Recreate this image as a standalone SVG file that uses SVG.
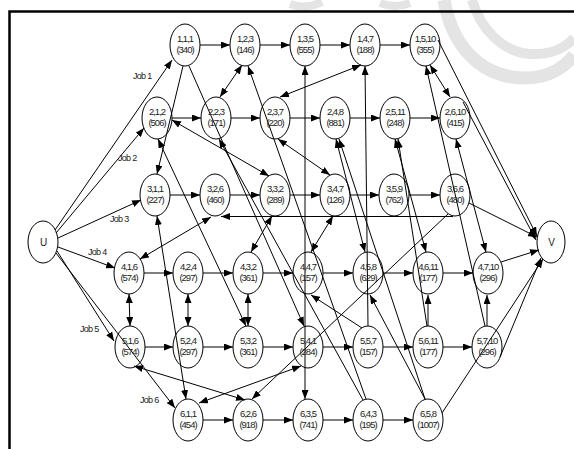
<svg xmlns="http://www.w3.org/2000/svg" width="574" height="449" viewBox="0 0 574 449">
<defs>
<marker id="a" markerUnits="userSpaceOnUse" markerWidth="9" markerHeight="7" refX="9" refY="3.5" orient="auto-start-reverse"><path d="M0,0 L9,3.5 L0,7 z" fill="#000"/></marker>
<style>
.n ellipse{fill:none;stroke:#000;stroke-width:1}
.n text{font-family:"Liberation Sans",Arial,sans-serif;font-size:9.5px;letter-spacing:-1px;text-anchor:middle;fill:#222}
.lbl{font-family:"Liberation Sans",Arial,sans-serif;font-size:9px;letter-spacing:-0.7px;fill:#222}
#edges path{fill:none;stroke:#000;stroke-width:1}
.e{marker-end:url(#a)}
.d{marker-end:url(#a);marker-start:url(#a)}
.s{marker-start:url(#a)}
.wm{fill:none;stroke:#e4e4e4}
</style>
</defs>
<rect width="574" height="449" fill="#fff"/>
<g id="watermark">
<path class="wm" d="M444,0 C452,45 480,78 525,78 C550,78 566,66 574,55" stroke-width="13"/>
<path class="wm" d="M472,0 C480,28 502,52 530,54 C550,55 565,48 574,38" stroke-width="10"/>
<path class="wm" d="M290,4 Q305,10 322,2" stroke-width="8"/>
<path class="wm" d="M380,3 Q395,9 410,3" stroke-width="8"/>
</g>
<path d="M9.5,449 V11.5 H574" fill="none" stroke="#000" stroke-width="2.5"/>
<g id="edges">
<path class="e" d="M55,230 L172,60"/>
<path class="e" d="M56,233 L144,128"/>
<path class="e" d="M58,238 L141,200"/>
<path class="e" d="M58,247 L115,268"/>
<path class="e" d="M57,251 L114,341"/>
<path class="e" d="M56,253 L175,408"/>
<path class="e" d="M200,45 H230"/><path class="e" d="M260,45 H290"/><path class="e" d="M320,45 H350"/><path class="e" d="M380,45 H410"/>
<path class="e" d="M438,40 L537,236"/><path class="e" d="M463,102 L536,240"/>
<path class="e" d="M172,118 H201"/><path class="e" d="M231,118 H260"/><path class="e" d="M290,118 H320"/><path class="e" d="M350,118 H380"/><path class="e" d="M410,118 H440"/>
<path class="e" d="M170,195 H200"/><path class="e" d="M230,195 H260"/><path class="e" d="M290,195 H320"/><path class="e" d="M350,195 H379"/><path class="e" d="M409,195 H440"/><path class="e" d="M469,203 L537,237"/>
<path class="e" d="M144,273 H173"/><path class="e" d="M203,273 H233"/><path class="e" d="M263,273 H293"/><path class="e" d="M323,273 H353"/><path class="e" d="M383,273 H413"/><path class="e" d="M443,273 H473"/><path class="e" d="M501,262 L539,250"/>
<path class="e" d="M145,347 H173"/><path class="e" d="M203,347 H233"/><path class="e" d="M263,347 H293"/><path class="e" d="M323,347 H353"/><path class="e" d="M383,347 H413"/><path class="e" d="M443,347 H472"/><path class="e" d="M500,357 L541,258"/>
<path class="e" d="M203,420 H233"/><path class="e" d="M263,420 H293"/><path class="e" d="M323,420 H353"/><path class="e" d="M383,420 H413"/><path class="e" d="M442,413 L543,259"/>
<path class="e" d="M183,66 L157,174"/>
<path class="e" d="M189,66 L304,326"/>
<path class="d" d="M157,216 L186,399"/>
<path class="d" d="M199,403 L301,366"/>
<path class="d" d="M172,120 L269,176"/>
<path class="d" d="M158,139 L246,326"/>
<path class="d" d="M272,216 L251,252"/>
<path class="d" d="M248,294 V326"/>
<path class="d" d="M242,65 L220,97"/>
<path class="s" d="M248,66 L366,399"/>
<path class="s" d="M219,139 L363,400"/>
<path class="d" d="M188,294 V326"/>
<path class="d" d="M305,66 V399"/>
<path class="d" d="M140,259 L211,217"/>
<path class="e" d="M453,216.5 H221"/>
<path class="e" d="M448,214 L252,399"/>
<path class="d" d="M129,294 L130,326"/>
<path class="d" d="M134,366 L245,400"/>
<path class="d" d="M361,65 L280,97"/>
<path class="e" d="M368,326 L365,66"/>
<path class="d" d="M278,139 L330,175"/>
<path class="d" d="M333,216 L311,252"/>
<path class="e" d="M362,328 L311,295"/>
<path class="d" d="M336,139 L365,252"/>
<path class="s" d="M339,139 L425,399"/>
<path class="e" d="M425,399 L370,295"/>
<path class="d" d="M395,139 L426,252"/>
<path class="s" d="M398,139 L427,326"/>
<path class="e" d="M428,326 V295"/>
<path class="d" d="M430,65 L450,97"/>
<path class="e" d="M485,326 L426,66"/>
<path class="d" d="M456,139 L486,252"/>
<path class="e" d="M487,326 V295"/>
</g>
<g id="U" class="n"><ellipse cx="43" cy="242" rx="15" ry="21"/><text x="43" y="246" style="font-size:10px">U</text></g>
<g id="V" class="n"><ellipse cx="551" cy="242" rx="14" ry="21"/><text x="551" y="246" style="font-size:10px">V</text></g>
<g id="n111" class="n"><ellipse cx="185" cy="45" rx="15" ry="21"/><text x="185" y="42">1,1,1</text><text x="185" y="53">(340)</text></g>
<g id="n123" class="n"><ellipse cx="245" cy="45" rx="15" ry="21"/><text x="245" y="42">1,2,3</text><text x="245" y="53">(146)</text></g>
<g id="n135" class="n"><ellipse cx="305" cy="45" rx="15" ry="21"/><text x="305" y="42">1,3,5</text><text x="305" y="53">(555)</text></g>
<g id="n147" class="n"><ellipse cx="365" cy="45" rx="15" ry="21"/><text x="365" y="42">1,4,7</text><text x="365" y="53">(188)</text></g>
<g id="n1510" class="n"><ellipse cx="425" cy="45" rx="15" ry="21"/><text x="425" y="42">1,5,10</text><text x="425" y="53">(355)</text></g>
<g id="n212" class="n"><ellipse cx="157" cy="118" rx="15" ry="21"/><text x="157" y="115">2,1,2</text><text x="157" y="126">(506)</text></g>
<g id="n223" class="n"><ellipse cx="216" cy="118" rx="15" ry="21"/><text x="216" y="115">2,2,3</text><text x="216" y="126">(171)</text></g>
<g id="n237" class="n"><ellipse cx="275" cy="118" rx="15" ry="21"/><text x="275" y="115">2,3,7</text><text x="275" y="126">(220)</text></g>
<g id="n248" class="n"><ellipse cx="335" cy="118" rx="15" ry="21"/><text x="335" y="115">2,4,8</text><text x="335" y="126">(881)</text></g>
<g id="n2511" class="n"><ellipse cx="395" cy="118" rx="15" ry="21"/><text x="395" y="115">2,5,11</text><text x="395" y="126">(248)</text></g>
<g id="n2610" class="n"><ellipse cx="455" cy="118" rx="15" ry="21"/><text x="455" y="115">2,6,10</text><text x="455" y="126">(415)</text></g>
<g id="n311" class="n"><ellipse cx="155" cy="195" rx="15" ry="21"/><text x="155" y="192">3,1,1</text><text x="155" y="203">(227)</text></g>
<g id="n326" class="n"><ellipse cx="215" cy="195" rx="15" ry="21"/><text x="215" y="192">3,2,6</text><text x="215" y="203">(460)</text></g>
<g id="n332" class="n"><ellipse cx="275" cy="195" rx="15" ry="21"/><text x="275" y="192">3,3,2</text><text x="275" y="203">(289)</text></g>
<g id="n347" class="n"><ellipse cx="335" cy="195" rx="15" ry="21"/><text x="335" y="192">3,4,7</text><text x="335" y="203">(126)</text></g>
<g id="n359" class="n"><ellipse cx="394" cy="195" rx="15" ry="21"/><text x="394" y="192">3,5,9</text><text x="394" y="203">(762)</text></g>
<g id="n366" class="n"><ellipse cx="455" cy="195" rx="15" ry="21"/><text x="455" y="192">3,6,6</text><text x="455" y="203">(480)</text></g>
<g id="n416" class="n"><ellipse cx="129" cy="273" rx="15" ry="21"/><text x="129" y="270">4,1,6</text><text x="129" y="281">(574)</text></g>
<g id="n424" class="n"><ellipse cx="188" cy="273" rx="15" ry="21"/><text x="188" y="270">4,2,4</text><text x="188" y="281">(297)</text></g>
<g id="n432" class="n"><ellipse cx="248" cy="273" rx="15" ry="21"/><text x="248" y="270">4,3,2</text><text x="248" y="281">(361)</text></g>
<g id="n447" class="n"><ellipse cx="308" cy="273" rx="15" ry="21"/><text x="308" y="270">4,4,7</text><text x="308" y="281">(157)</text></g>
<g id="n458" class="n"><ellipse cx="368" cy="273" rx="15" ry="21"/><text x="368" y="270">4,5,8</text><text x="368" y="281">(629)</text></g>
<g id="n4611" class="n"><ellipse cx="428" cy="273" rx="15" ry="21"/><text x="428" y="270">4,6,11</text><text x="428" y="281">(177)</text></g>
<g id="n4710" class="n"><ellipse cx="488" cy="273" rx="15" ry="21"/><text x="488" y="270">4,7,10</text><text x="488" y="281">(296)</text></g>
<g id="n516" class="n"><ellipse cx="130" cy="347" rx="15" ry="21"/><text x="130" y="344">5,1,6</text><text x="130" y="355">(574)</text></g>
<g id="n524" class="n"><ellipse cx="188" cy="347" rx="15" ry="21"/><text x="188" y="344">5,2,4</text><text x="188" y="355">(297)</text></g>
<g id="n532" class="n"><ellipse cx="248" cy="347" rx="15" ry="21"/><text x="248" y="344">5,3,2</text><text x="248" y="355">(361)</text></g>
<g id="n541" class="n"><ellipse cx="308" cy="347" rx="15" ry="21"/><text x="308" y="344">5,4,1</text><text x="308" y="355">(284)</text></g>
<g id="n557" class="n"><ellipse cx="368" cy="347" rx="15" ry="21"/><text x="368" y="344">5,5,7</text><text x="368" y="355">(157)</text></g>
<g id="n5611" class="n"><ellipse cx="428" cy="347" rx="15" ry="21"/><text x="428" y="344">5,6,11</text><text x="428" y="355">(177)</text></g>
<g id="n5710" class="n"><ellipse cx="487" cy="347" rx="15" ry="21"/><text x="487" y="344">5,7,10</text><text x="487" y="355">(296)</text></g>
<g id="n611" class="n"><ellipse cx="188" cy="420" rx="15" ry="21"/><text x="188" y="417">6,1,1</text><text x="188" y="428">(454)</text></g>
<g id="n626" class="n"><ellipse cx="248" cy="420" rx="15" ry="21"/><text x="248" y="417">6,2,6</text><text x="248" y="428">(918)</text></g>
<g id="n635" class="n"><ellipse cx="308" cy="420" rx="15" ry="21"/><text x="308" y="417">6,3,5</text><text x="308" y="428">(741)</text></g>
<g id="n643" class="n"><ellipse cx="368" cy="420" rx="15" ry="21"/><text x="368" y="417">6,4,3</text><text x="368" y="428">(195)</text></g>
<g id="n658" class="n"><ellipse cx="428" cy="420" rx="15" ry="21"/><text x="428" y="417">6,5,8</text><text x="428" y="428">(1007)</text></g>
<text class="lbl" x="133" y="79">Job 1</text>
<text class="lbl" x="118" y="161">Job 2</text>
<text class="lbl" x="110" y="222">Job 3</text>
<text class="lbl" x="88" y="255">Job 4</text>
<text class="lbl" x="80" y="332">Job 5</text>
<text class="lbl" x="140" y="403">Job 6</text>
</svg>
